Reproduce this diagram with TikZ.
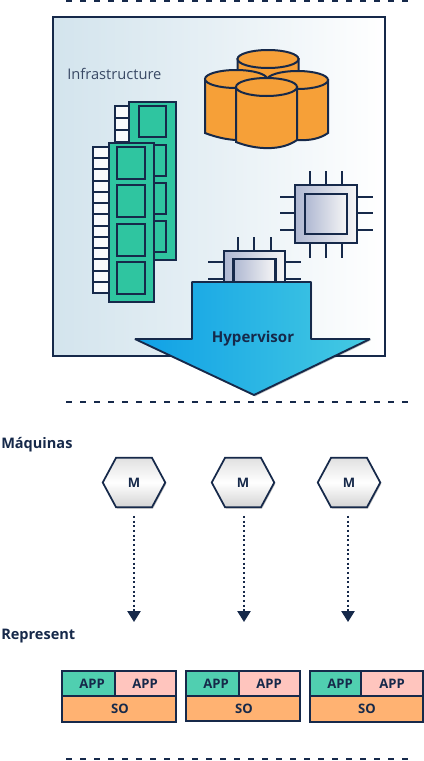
\documentclass[tikz,border=0pt]{standalone}
\usepackage{fontspec}
\setmainfont{Open Sans}
\usetikzlibrary{arrows.meta,shadows}
\definecolor{ink}{HTML}{16294A}
\definecolor{cylo}{HTML}{F6A038}
\definecolor{modg}{HTML}{2FC5A0}
\definecolor{appg}{HTML}{50CFB0}
\definecolor{appp}{HTML}{FFC5BE}
\definecolor{soo}{HTML}{FFB272}
\definecolor{D1}{HTML}{D3E4ED}
\definecolor{D2}{HTML}{E7F0F5}
\definecolor{A1}{HTML}{0FA0E6}
\definecolor{A2}{HTML}{45CAE2}
\definecolor{B1}{HTML}{AFB8D2}
\definecolor{B2}{HTML}{F6F6F6}
\tikzset{
  ln/.style={draw=ink,line width=1.5pt},
  sep/.style={draw=ink,line width=1.5pt,dash pattern=on 4.8pt off 5.7pt},
  softshadow/.style={drop shadow={shadow xshift=0.8pt,shadow yshift=-1pt,opacity=.25,fill=black}},
  appt/.style={text=ink,font=\fontsize{9.8pt}{10pt}\selectfont\bfseries},
  heading/.style={text=ink,anchor=west,font=\fontsize{10.9pt}{12pt}\selectfont\bfseries,inner sep=0pt},
  hexbox/.style={minimum width=46.5pt,minimum height=36.75pt,inner sep=0pt,text=ink,font=\fontsize{9.8pt}{10pt}\selectfont\bfseries},
  flow/.style={draw=ink,line width=1.5pt,dash pattern=on 1.5pt off 2pt,shorten <=6.5pt,-{Triangle[length=8.2pt,width=9.8pt,fill=ink]}},
  chipo/.style={ln,left color=B1,right color=B2},
  chipi/.style={draw=ink,line width=1.7pt,left color=B1,right color=B2},
}
\newcommand{\cyl}[5]{% cx, top y, rx, left-bottom y, right-bottom y
  \path[ln,fill=cylo] (#1-#3,#2) -- (#1-#3,#4)
    .. controls (#1-#3/3,#4+8) and (#1+#3/2,#5+11) .. (#1+#3,#5) -- (#1+#3,#2) -- cycle;
  \path[ln,fill=cylo] (#1,#2) ellipse [x radius=#3,y radius=9];}
\newcommand{\chipic}[6]{% x0,y0,x1,y1,inset x,inset y
  \path[chipo] (#1,#2) rectangle (#3,#4);
  \path[chipi] (#1+#5,#2+#6) rectangle (#3-#5,#4-#6);}
\newcommand{\hexa}[2]{%
  \node[hexbox] (#1) at (#2,482.5) {};
  \path[draw=ink,line width=1.3pt,top color=black!12,bottom color=black!17,middle color=white,softshadow]
    (#1.west) -- ([xshift=10pt]#1.north west) -- ([xshift=-10pt]#1.north east)
    -- (#1.east) -- ([xshift=-10pt]#1.south east) -- ([xshift=10pt]#1.south west) -- cycle;
  \node[hexbox,yshift=-.5pt] at (#1) {M};}
\newcommand{\stackbox}[8]{% name x0 split x1 yb app1x app2x sox
  \path[ln,fill=appg] (#2,671) rectangle (#3,696);
  \path[ln,fill=appp] (#3,671) rectangle (#4,696);
  \path[ln,fill=soo] (#2,696) rectangle (#4,#5);
  \node[appt] (#1a) at (#6,683.5) {APP};
  \node[appt] (#1b) at (#7,683.5) {APP};
  \node[appt] (#1s) at (#8,708.5) {SO};}
\begin{document}
\begin{tikzpicture}[x=0.75pt,y=-0.75pt]
\useasboundingbox (0,0) rectangle (424,761);
\fill[white] (0,0) rectangle (424,761);
% separators
\coordinate (s1a) at (66,1); \coordinate (s1b) at (408,1);
\coordinate (s2a) at (66,402); \coordinate (s2b) at (408,402);
\coordinate (s3a) at (66,759); \coordinate (s3b) at (408,759);
\draw[sep] (s1a) -- (s1b);
\draw[sep] (s2a) -- (s2b);
\draw[sep] (s3a) -- (s3b);
% panel
\path[ln,left color=D1,right color=white,middle color=D2,softshadow] (52.5,17) rectangle (384.5,356);
\node[anchor=west,inner sep=0pt,text=ink!85,font=\fontsize{11pt}{12pt}\selectfont] (infra) at (67,74) {Infrastructure};
% cylinders
\cyl{268}{59}{30.5}{100}{100}
\cyl{297.5}{80}{30.5}{133}{133}
\cyl{236}{79}{31}{133}{133}
\cyl{266.5}{87}{30.5}{142}{140}
% back module
\foreach \y in {106,118,130,142,154}{\path[ln,fill=white!70!D2] (115,\y) rectangle (129,\y+12);}
\path[ln,fill=modg] (129,102) rectangle (176,260);
\foreach \y in {106,145,183,221}{\path[ln,fill=modg] (139,\y) rectangle (166,\y+31);}
% front module
\foreach \i in {0,...,12}{\path[ln,fill=white!70!D2] (93,147+\i*11.23) rectangle (109,147+\i*11.23+11.23);}
\path[ln,fill=modg] (109,143) rectangle (154,302);
\foreach \y in {147,185,224,262}{\path[ln,fill=modg] (117,\y) rectangle (145,\y+31.5);}
% chip 1
\foreach \x in {310,326,342}{\draw[ln] (\x,171) -- (\x,258);}
\foreach \y in {197,213,230}{\draw[ln] (280,\y) -- (373,\y);}
\chipic{295}{185}{357}{243}{10}{9}
% chip 2
\foreach \x in {238,254,271}{\draw[ln] (\x,237) -- (\x,290);}
\foreach \y in {262,279}{\draw[ln] (208,\y) -- (301,\y);}
\chipic{224}{251}{285}{310}{9.5}{8}
% hypervisor arrow
\path[draw=ink,line width=1.4pt,left color=A1,right color=A2,softshadow,line join=bevel]
  (192,282) -- (311,282) -- (311,339) -- (370,339) -- (254,395) -- (135,339) -- (192,339) -- cycle;
\node[text=ink,font=\fontsize{11.3pt}{12pt}\selectfont\bfseries,inner sep=0pt] (hyp) at (253,338.5) {Hypervisor};
% headings
\node[heading] (maq) at (1,445) {Máquinas};
\node[heading] (rep) at (1,636) {Represent};
% hexagons
\hexa{m1}{134}
\hexa{m2}{243}
\hexa{m3}{349}
\coordinate (t1) at (134,622);
\coordinate (t2) at (244,622);
\coordinate (t3) at (348,622);
\draw[flow] (m1.south) -- (t1);
\draw[flow] ([xshift=.75pt]m2.south) -- (t2);
\draw[flow] ([xshift=-.75pt]m3.south) -- (t3);
% stacks
\stackbox{a}{62}{115}{176}{721.5}{92}{145}{120}
\stackbox{b}{186}{239}{300}{721}{216}{269}{244}
\stackbox{c}{310}{361}{423}{722}{340}{392}{367}
\end{tikzpicture}
\end{document}
